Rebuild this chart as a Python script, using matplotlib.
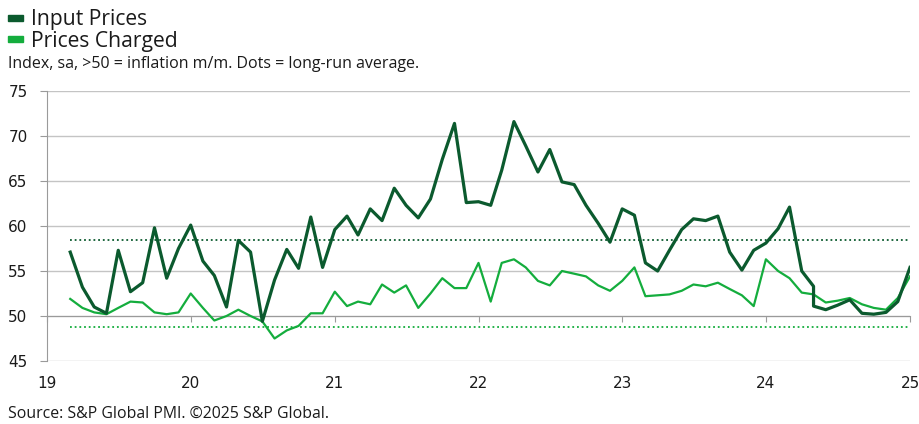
import pandas as pd
import matplotlib.pyplot as plt
from matplotlib.patches import Rectangle

# Data (monthly, Mar 2019 - Jan 2025)
months = pd.date_range('2019-03-01', '2025-01-01', freq='MS')

# input prices: the May 2024 reading shows up twice in the source chart
input_prices = [57.1, 53.2, 51.0, 50.3, 57.3, 52.7, 53.7, 59.8, 54.2, 57.5,
                60.1, 56.1, 54.5, 51.0, 58.4, 57.1, 49.4, 54.0, 57.4, 55.3, 61.0, 55.4,
                59.6, 61.1, 59.0, 61.9, 60.6, 64.2, 62.3, 60.9, 63.0, 67.4, 71.4, 62.6,
                62.7, 62.3, 66.2, 71.6, 68.9, 66.0, 68.5, 64.9, 64.6, 62.3, 60.3, 58.2,
                61.9, 61.2, 55.9, 55.0, 57.3, 59.6, 60.8, 60.6, 61.1, 57.1, 55.1, 57.3,
                58.1, 59.7, 62.1, 55.0, 53.3, 51.1, 50.7, 51.2, 51.8, 50.3, 50.2, 50.4, 51.6,
                55.4]
dup = pd.Timestamp('2024-05-01')
input_months = months.insert(list(months).index(dup), dup)

prices_charged = [51.9, 50.9, 50.4, 50.2, 50.9, 51.6, 51.5, 50.4, 50.2, 50.4,
                  52.5, 50.9, 49.5, 50.0, 50.7, 50.0, 49.4, 47.5, 48.4, 48.9, 50.3, 50.3,
                  52.7, 51.1, 51.6, 51.3, 53.5, 52.6, 53.4, 50.9, 52.5, 54.2, 53.1, 53.1,
                  55.9, 51.6, 55.9, 56.3, 55.4, 53.9, 53.4, 55.0, 54.7, 54.4, 53.4, 52.8,
                  53.9, 55.4, 52.2, 52.3, 52.4, 52.8, 53.5, 53.3, 53.7, 53.0, 52.3, 51.1,
                  56.3, 55.0, 54.2, 52.6, 52.4, 51.5, 51.7, 52.0, 51.3, 50.9, 50.7, 52.0,
                  54.4]

avg_input = 58.4
avg_charged = 48.8

year_ticks = pd.date_range('2019-01-01', '2025-01-01', freq='YS')
year_labels = ['19', '20', '21', '22', '23', '24', '25']

dark = '#0b5a2e'
light = '#14ad3d'
grid_col = '#c4c4c4'
axis_col = '#9a9a9a'
txt_font = ['Open Sans', 'DejaVu Sans']

fig = plt.figure(figsize=(9.19, 4.24), dpi=100)
W, H = 919, 424
ax = fig.add_axes([47 / W, (H - 361) / H, (910 - 47) / W, 270 / H])

ax.plot(input_months, input_prices, color=dark, lw=2.3, zorder=4, solid_joinstyle='round')
ax.plot(months, prices_charged, color=light, lw=1.6, zorder=3, solid_joinstyle='round')
ax.plot([months[0], months[-1]], [avg_input, avg_input], color=dark, lw=1.3,
        linestyle=(0, (1, 1.6)), zorder=2)
ax.plot([months[0], months[-1]], [avg_charged, avg_charged], color=light, lw=1.3,
        linestyle=(0, (1, 1.6)), zorder=2)

ax.set_ylim(45, 75)
ax.set_yticks(range(45, 80, 5))
ax.set_xlim(year_ticks[0], year_ticks[-1])
ax.set_xticks(year_ticks)
ax.set_xticklabels(year_labels)

ax.grid(axis='y', color=grid_col, lw=1.0)
ax.set_axisbelow(True)
for s in ['top', 'right']:
    ax.spines[s].set_visible(False)
ax.spines['left'].set_color(axis_col)
ax.spines['bottom'].set_color(axis_col)
ax.spines['bottom'].set_position(('data', 50))
ax.spines['bottom'].set_zorder(1)

ax.tick_params(axis='y', length=5, color=axis_col, pad=9, labelsize=11)
ax.tick_params(axis='x', length=4, color=axis_col, pad=39, labelsize=11)
for lab in ax.get_xticklabels() + ax.get_yticklabels():
    lab.set_fontfamily('DejaVu Sans')
    lab.set_color('#1a1a1a')

# legend + captions
fig.add_artist(Rectangle((8 / W, 1 - 21 / H), 15 / W, 6 / H, color=dark, transform=fig.transFigure))
fig.add_artist(Rectangle((8 / W, 1 - 42 / H), 15 / W, 6 / H, color=light, transform=fig.transFigure))
fig.text(31 / W, 1 - 25 / H, 'Input Prices', family=txt_font, fontsize=15.2, color='#1a1a1a', va='baseline')
fig.text(31 / W, 1 - 47 / H, 'Prices Charged', family=txt_font, fontsize=15.2, color='#1a1a1a', va='baseline')
fig.text(8 / W, 1 - 68 / H, 'Index, sa, >50 = inflation m/m. Dots = long-run average.',
         family=txt_font, fontsize=11.5, color='#1a1a1a', va='baseline')
fig.text(8 / W, 1 - 418 / H, 'Source: S&P Global PMI. ©2025 S&P Global.',
         family=txt_font, fontsize=11.4, color='#1a1a1a', va='baseline')

fig.savefig('out.png', dpi=100)
